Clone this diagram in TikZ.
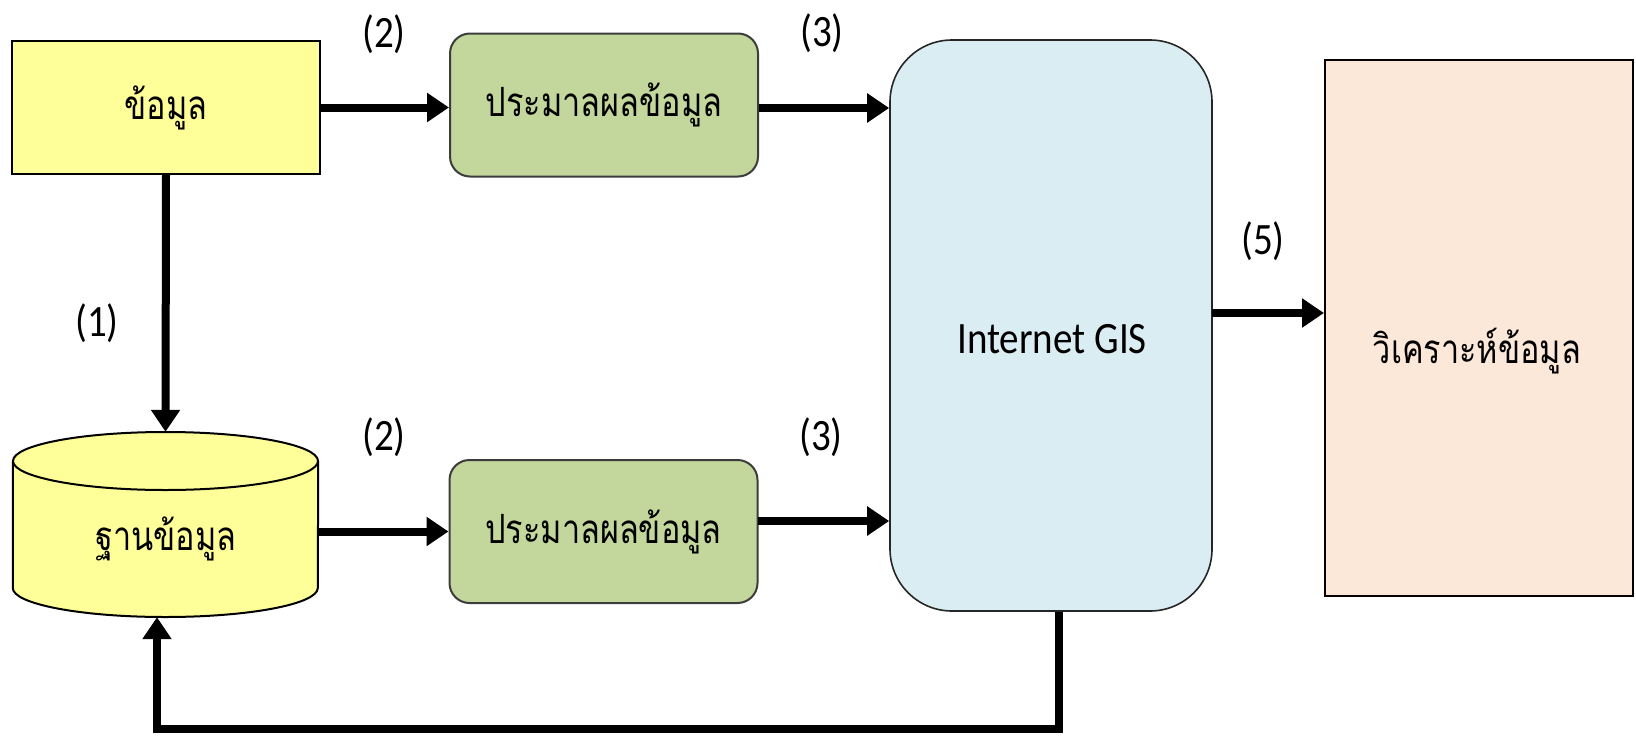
\documentclass[tikz,border=0pt]{standalone}
\usepackage{fontspec}
\setmainfont{Carlito}
\newfontfamily\thai[Script=Thai]{Loma}
\usetikzlibrary{arrows.meta}
\newcommand\tallbox[1]{\scalebox{1}[1.15]{#1}}
\newcommand\thaibox[1]{\scalebox{0.9}[1.12]{#1}}
\definecolor{infofill}{RGB}{255,255,153}
\definecolor{procfill}{RGB}{195,214,155}
\definecolor{procline}{RGB}{60,60,60}
\definecolor{gisfill}{RGB}{218,237,243}
\definecolor{anafill}{RGB}{252,232,217}
\begin{document}
\begin{tikzpicture}[x=1pt,y=-1pt,
  flow/.style={line width=8pt,-{Triangle[length=22pt,width=28pt]}},
  plain/.style={line width=8pt},
  box/.style={draw,line width=2pt,inner sep=0pt},
  proc/.style={box,draw=procline,fill=procfill,rounded corners=20pt,
    minimum width=308pt,minimum height=143pt},
  num/.style={inner sep=0pt,font=\fontsize{39}{47}\selectfont},
  thaitext/.style={font=\fontsize{36}{44}\selectfont\thai}]
\useasboundingbox (0,0) rectangle (1636,739);

% source data and processing boxes
\node[box,fill=infofill,minimum width=308pt,minimum height=133pt,thaitext]
  (info) at (166,107.5) {\thaibox{ข้อมูล}};
\node[proc,thaitext] (proc1) at (604,105) {\thaibox{ประมาลผลข้อมูล}};
\node[proc,thaitext] (proc2) at (603.5,531.5) {\thaibox{ประมาลผลข้อมูล}};

% Internet GIS server and analysis box
\node[box,line width=1.6pt,draw=black!85,fill=gisfill,rounded corners=62pt,
  minimum width=322pt,minimum height=571pt] (gis) at (1051,325.5) {};
\node[num,font=\fontsize{39}{47}\selectfont] (gistext) at (1052,339) {\tallbox{Internet GIS}};
\node[box,fill=anafill,minimum width=308pt,minimum height=536pt] (ana) at (1479,328) {};
\node[thaitext] (anatext) at (1477,351) {\thaibox{วิเคราะห์ข้อมูล}};

% database cylinder
\node[inner sep=0pt,minimum width=305pt,minimum height=185pt] (db) at (165.5,524.5) {};
\fill[infofill] (db.west |- 0,461) -- (db.west |- 0,588)
  arc[start angle=180,end angle=360,x radius=152.5pt,y radius=29pt]
  -- (db.east |- 0,461)
  arc[start angle=0,end angle=180,x radius=152.5pt,y radius=29pt] -- cycle;
\draw[line width=2pt] (db.west |- 0,461) -- (db.west |- 0,588)
  arc[start angle=180,end angle=360,x radius=152.5pt,y radius=29pt]
  -- (db.east |- 0,461);
\draw[line width=2pt] (165.5,461) ellipse[x radius=152.5pt,y radius=29pt];
\node[thaitext] (dbtext) at (166,539) {\thaibox{ฐานข้อมูล}};

% step numbers
\node[num] (s1) at (97,323) {\tallbox{(1)}};
\node[num] (s2a) at (384,34) {\tallbox{(2)}};
\node[num] (s2b) at (384,437) {\tallbox{(2)}};
\node[num] (s3a) at (822,33) {\tallbox{(3)}};
\node[num] (s3b) at (821,437) {\tallbox{(3)}};
\node[num] (s5) at (1263,241) {\tallbox{(5)}};

% flow connectors
\draw[flow] (info.south) -- (db.north);
\draw[flow] (info.east) -- (info.east -| proc1.west);
\draw[flow] (proc1.east |- 0,108) -- (gis.west |- 0,108);
\draw[flow] (db.east |- proc2.west) -- (proc2.west);
\coordinate (g2out) at (758,521);
\draw[flow] (g2out) -- (gis.west |- g2out);
\coordinate (a5) at (1212,313);
\draw[flow] (a5) -- (ana.west |- a5);

% feedback loop from the GIS back into the database
\coordinate (fbr) at (1059,729);
\coordinate (fbl) at (157,729);
\draw[plain,-{Triangle[length=22pt,width=28pt]},line join=miter]
  (gis.south -| fbr) -- (fbr) -- (fbl) -- (db.south -| fbl);
\end{tikzpicture}
\end{document}
